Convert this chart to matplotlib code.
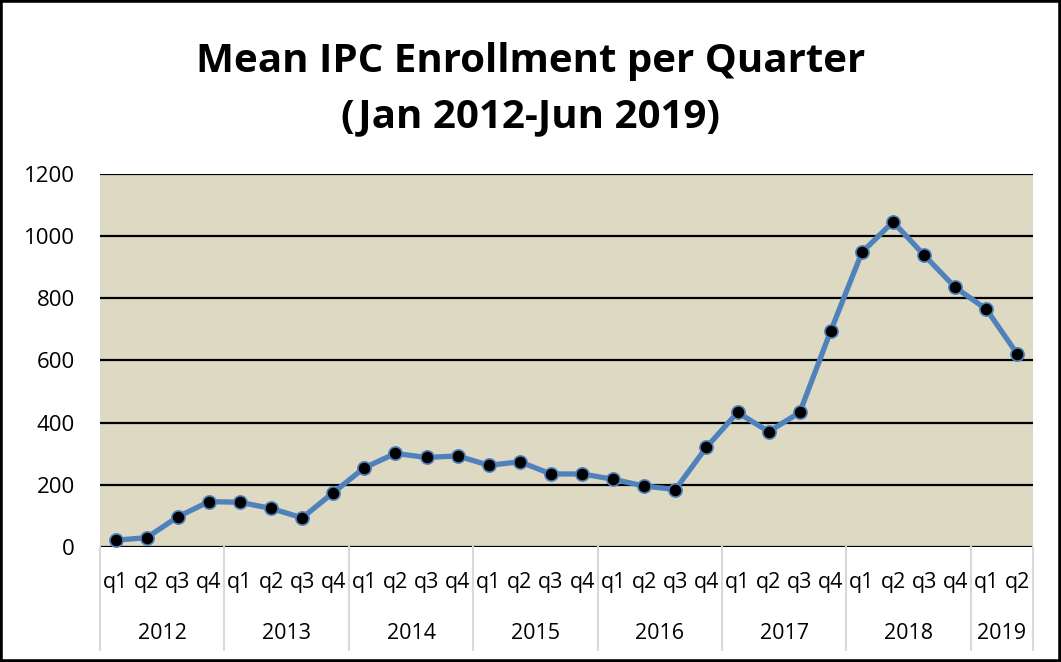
import matplotlib.pyplot as plt
import matplotlib.transforms as mtransforms
from matplotlib.patches import Rectangle

# Data
YEARS = ['2012', '2013', '2014', '2015', '2016', '2017', '2018', '2019']
QUARTERS = ['q1', 'q2', 'q3', 'q4']
QUARTERS_PER_YEAR = [4, 4, 4, 4, 4, 4, 4, 2]
ENROLLMENT = [22, 30, 97, 146,
              144, 124, 94, 175,
              255, 301, 288, 293,
              263, 274, 235, 235,
              218, 196, 185, 321,
              433, 371, 433, 696,
              948, 1046, 939, 835,
              765, 620]

LINE_COLOR = '#4F81BD'
PLOT_BG = '#DDD9C3'
SEP_COLOR = '#D9D9D9'

plt.rcParams['font.family'] = ['Open Sans', 'DejaVu Sans']

fig = plt.figure(figsize=(10.61, 6.62), dpi=100)
ax = fig.add_axes([0.0943, 0.1737, 0.8793, 0.5635])
ax.set_facecolor(PLOT_BG)

x = list(range(len(ENROLLMENT)))
ax.plot(x, ENROLLMENT, color=LINE_COLOR, linewidth=3.8, marker='o',
        markersize=9.5, markerfacecolor='black', markeredgecolor=LINE_COLOR,
        markeredgewidth=1.2, zorder=3)

ax.set_xlim(-0.5, len(ENROLLMENT) - 0.5)
ax.set_ylim(0, 1200)
ax.set_yticks(range(0, 1201, 200))
ax.tick_params(axis='y', length=0, labelsize=16, pad=18)
ax.yaxis.grid(True, color='black', linewidth=1.6)
ax.set_axisbelow(True)
ax.set_xticks([])
for s in ax.spines.values():
    s.set_visible(False)

# Multi-level category axis
trans = mtransforms.blended_transform_factory(ax.transData, ax.transAxes)
pos = 0
bounds = [-0.5]
for year, n in zip(YEARS, QUARTERS_PER_YEAR):
    for i in range(n):
        ax.text(pos + i, -0.094, QUARTERS[i], transform=trans,
                ha='center', va='center', fontsize=15.5)
    ax.text(pos + (n - 1) / 2, -0.232, year, transform=trans,
            ha='center', va='center', fontsize=15.5)
    pos += n
    bounds.append(pos - 0.5)
for b in bounds:
    ax.plot([b, b], [0, -0.276], transform=trans, color=SEP_COLOR,
            linewidth=1.5, clip_on=False)

# Title, two lines
fig.text(0.5, 1 - 72 / 662, 'Mean IPC Enrollment per Quarter', ha='center',
         va='baseline', fontsize=29, fontweight='bold')
fig.text(0.5, 1 - 127 / 662, '(Jan 2012-Jun 2019)', ha='center',
         va='baseline', fontsize=29, fontweight='bold')

# Figure border
fig.patches.append(Rectangle((0, 0), 1, 1, transform=fig.transFigure,
                             fill=False, edgecolor='black', linewidth=4))

fig.savefig('out.png', dpi=100)
